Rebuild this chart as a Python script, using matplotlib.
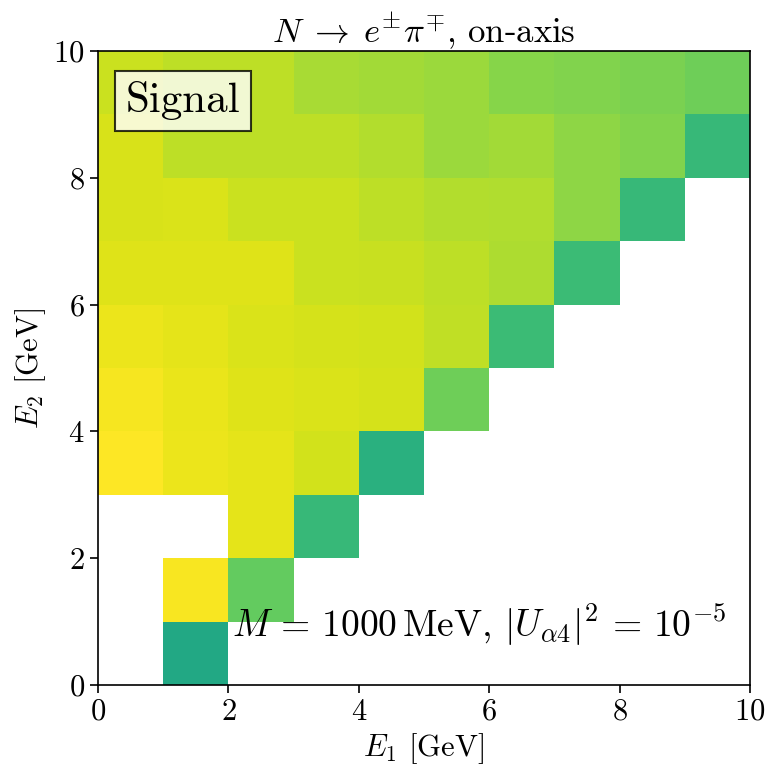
import numpy as np
import matplotlib
matplotlib.use("Agg")
import matplotlib.pyplot as plt

plt.rcParams['mathtext.fontset'] = 'cm'
plt.rcParams['font.family'] = 'serif'
plt.rcParams['font.serif'] = ['cmr10', 'DejaVu Serif']
plt.rcParams['axes.formatter.use_mathtext'] = True
plt.rcParams['axes.unicode_minus'] = False

# bin edges (GeV)
e1_edges = np.arange(0, 11, 1)
e2_edges = np.arange(0, 11, 1)

# normalised colour values per E2 bin (index = E1 bin), NaN = empty
e2_bin_0 = [np.nan, 0.60, np.nan, np.nan, np.nan, np.nan, np.nan, np.nan, np.nan, np.nan]
e2_bin_1 = [np.nan, 0.99, 0.76, np.nan, np.nan, np.nan, np.nan, np.nan, np.nan, np.nan]
e2_bin_2 = [np.nan, np.nan, 0.96, 0.67, np.nan, np.nan, np.nan, np.nan, np.nan, np.nan]
e2_bin_3 = [1.00, 0.97, 0.96, 0.93, 0.635, np.nan, np.nan, np.nan, np.nan, np.nan]
e2_bin_4 = [0.985, 0.965, 0.95, 0.945, 0.935, 0.78, np.nan, np.nan, np.nan, np.nan]
e2_bin_5 = [0.97, 0.96, 0.945, 0.935, 0.93, 0.905, 0.68, np.nan, np.nan, np.nan]
e2_bin_6 = [0.95, 0.95, 0.95, 0.92, 0.915, 0.90, 0.875, 0.68, np.nan, np.nan]
e2_bin_7 = [0.94, 0.945, 0.92, 0.92, 0.90, 0.885, 0.88, 0.83, 0.67, np.nan]
e2_bin_8 = [0.94, 0.90, 0.90, 0.90, 0.885, 0.85, 0.86, 0.83, 0.81, 0.67]
e2_bin_9 = [0.92, 0.90, 0.90, 0.87, 0.86, 0.85, 0.82, 0.81, 0.80, 0.78]

grid = np.array([e2_bin_0, e2_bin_1, e2_bin_2, e2_bin_3, e2_bin_4,
                 e2_bin_5, e2_bin_6, e2_bin_7, e2_bin_8, e2_bin_9])
grid = np.ma.masked_invalid(grid)

fig = plt.figure(figsize=(7.69, 7.68), dpi=100)
ax = fig.add_axes([98/769, 1-685/768, (750-98)/769, (685-51)/768])

ax.pcolormesh(e1_edges, e2_edges, grid, cmap='viridis', vmin=0, vmax=1,
              shading='flat', edgecolors='none', antialiased=False)
ax.set_xlim(0, 10)
ax.set_ylim(0, 10)
ax.set_xticks([0, 2, 4, 6, 8, 10])
ax.set_yticks([0, 2, 4, 6, 8, 10])
ax.tick_params(labelsize=22, direction='out', length=6, width=1.2)
for s in ax.spines.values():
    s.set_linewidth(1.2)

ax.set_xlabel(r'$E_1$ [GeV]', fontsize=22, labelpad=4)
ax.set_ylabel(r'$E_2$ [GeV]', fontsize=22, labelpad=4)
ax.set_title(r'$N \;\to\; e^{\pm}\pi^{\mp}$, on-axis', fontsize=25, pad=5)

ax.text(0.043, 0.952, 'Signal', transform=ax.transAxes, fontsize=31,
        ha='left', va='top',
        bbox=dict(boxstyle='square,pad=0.25', facecolor='white', alpha=0.8,
                  edgecolor='black', linewidth=1.5))

ax.text(2.05, 0.95, r'$M \,=\, 1000\,\mathrm{MeV}$, $|U_{\alpha 4}|^2 \,=\, 10^{-5}$',
        fontsize=27, ha='left', va='center')

fig.savefig('out.png', dpi=100)
